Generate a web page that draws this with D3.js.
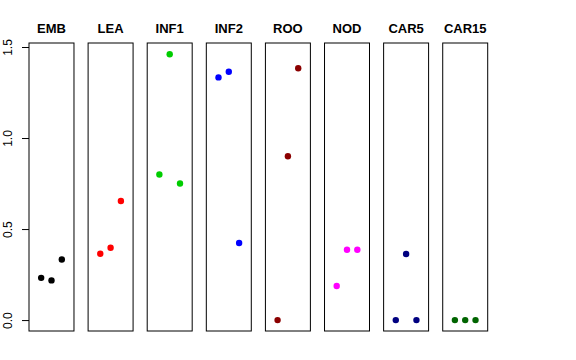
<!DOCTYPE html>
<html>
<head>
<meta charset="utf-8">
<script src="https://cdn.jsdelivr.net/npm/d3@7"></script>
<style>
  body { margin: 0; background: #fff; }
  svg { display: block; font-family: "Liberation Sans", Arial, sans-serif; }
</style>
</head>
<body>
<div class="chart"></div>
<script>
const categories = ["EMB", "LEA", "INF1", "INF2", "ROO", "NOD", "CAR5", "CAR15"];
const colors = ["#000000", "#ff0000", "#00cd00", "#0000ff", "#8b0000", "#ff00ff", "#000080", "#006400"];
const values = [
    [0.232, 0.218, 0.333],
    [0.364, 0.397, 0.654],
    [0.80, 1.46, 0.75],
    [1.333, 1.364, 0.423],
    [0.0, 0.90, 1.383],
    [0.187, 0.386, 0.386],
    [0.0, 0.363, 0.0],
    [0.0, 0.0, 0.0]
];
const yTicks = [0, 0.5, 1, 1.5];

const w = 576;
const h = 360;
const plotTop = 43;
const plotBottom = 331;

const svg = d3.select(".chart")
    .append("svg")
    .attr("width", w)
    .attr("height", h);

const panelScale = d3.scaleBand()
    .domain(categories)
    .range([29, 487.7])
    .paddingInner(0.239)
    .paddingOuter(0);

const yScale = d3.scaleLinear()
    .domain([-0.06, 1.522])
    .range([plotBottom, plotTop]);

const bw = panelScale.bandwidth();

categories.forEach((cat, i) => {
    const x0 = panelScale(cat);
    const xScale = d3.scaleLinear()
        .domain([-0.18, 4.18])
        .range([x0, x0 + bw]);

    const g = svg.append("g").attr("class", "panel");

    g.append("text")
        .attr("x", x0 + bw / 2)
        .attr("y", 33)
        .attr("text-anchor", "middle")
        .attr("font-weight", "bold")
        .attr("font-size", "13px")
        .text(cat);

    g.selectAll("circle")
        .data(values[i])
        .enter()
        .append("circle")
        .attr("cx", (d, j) => xScale(j + 1))
        .attr("cy", d => yScale(d))
        .attr("r", 3.2)
        .attr("fill", colors[i]);

    g.append("rect")
        .attr("x", x0)
        .attr("y", plotTop)
        .attr("width", bw)
        .attr("height", plotBottom - plotTop)
        .attr("fill", "none")
        .attr("stroke", "#000")
        .attr("stroke-width", 1);
});

const yAxis = d3.axisLeft(yScale)
    .tickValues(yTicks)
    .tickSize(7)
    .tickPadding(0)
    .tickFormat(d3.format(".1f"));

const ax = svg.append("g")
    .attr("transform", "translate(" + panelScale(categories[0]) + ",0)")
    .call(yAxis)
    .attr("id", "y-axis");

ax.select(".domain").remove();
ax.selectAll("text")
    .attr("font-size", "12px")
    .attr("font-family", "Liberation Sans, Arial, sans-serif")
    .attr("text-anchor", "middle")
    .attr("transform", "translate(-21,0) rotate(-90)")
    .attr("x", 0)
    .attr("dy", "0.35em")
    .attr("fill", "#000");
</script>
</body>
</html>
